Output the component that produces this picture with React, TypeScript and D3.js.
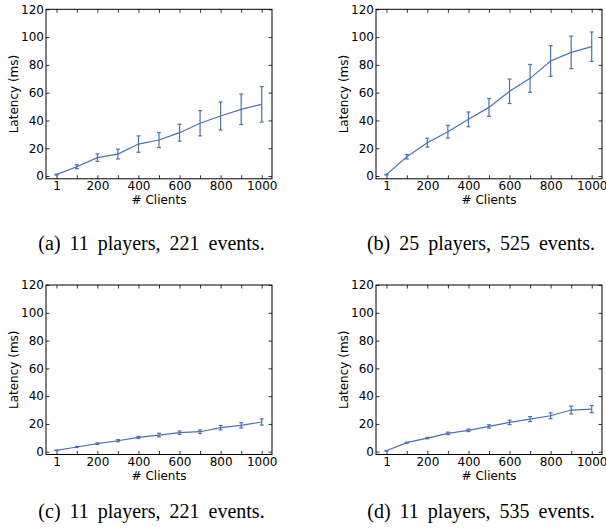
import React, { useEffect, useRef } from 'react';
import * as d3 from 'd3';

// number of clients on the x axis
const clients = [1, 100, 200, 300, 400, 500, 600, 700, 800, 900, 1000];
const xTicks = [1, 100, 200, 300, 400, 500, 600, 700, 800, 900, 1000];
const xLabels = [1, 200, 400, 600, 800, 1000];
const yTicks = [0, 20, 40, 60, 80, 100, 120];

// mean latency (ms) and error (ms) per panel
const latencyA = [1.0, 6.7, 13.2, 15.8, 23.0, 25.9, 31.2, 38.0, 43.2, 48.0, 51.6];
const errorA = [0.3, 1.4, 2.7, 3.5, 5.9, 5.4, 6.1, 9.1, 10.1, 11.0, 12.8];
const latencyB = [1.0, 13.9, 24.0, 31.9, 40.8, 49.4, 61.0, 70.3, 82.8, 89.0, 93.1];
const errorB = [0.3, 1.6, 3.2, 4.6, 5.3, 6.4, 8.8, 10.0, 11.0, 11.7, 10.6];
const latencyC = [1.0, 3.4, 5.8, 7.9, 10.3, 12.0, 13.7, 14.4, 17.3, 19.0, 21.4];
const errorC = [0.2, 0.4, 0.5, 0.8, 0.8, 1.3, 1.2, 1.3, 1.6, 1.9, 2.2];
const latencyD = [0.7, 6.5, 9.8, 13.2, 15.4, 18.2, 21.1, 23.5, 25.9, 30.0, 30.7];
const errorD = [0.2, 0.4, 0.5, 0.9, 0.9, 1.2, 1.6, 1.8, 2.1, 2.8, 2.6];

const captions = [
    '(a) 11 players, 221 events.',
    '(b) 25 players, 525 events.',
    '(c) 11 players, 221 events.',
    '(d) 11 players, 535 events.',
];

const color = '#4c72b0';
const width = 226;
const height = 169.5;

interface PanelProps {
    left: number;
    top: number;
    means: number[];
    errors: number[];
    caption: string;
    captionX: number;
    captionY: number;
}

const Panel: React.FC<PanelProps> = ({ left, top, means, errors, caption, captionX, captionY }) => {
    const ref = useRef<SVGGElement | null>(null);

    useEffect(() => {
        if (!ref.current) return;
        const root = d3.select(ref.current);
        root.selectAll('*').remove();

        const x = d3.scaleLinear().domain([-50, 1050]).range([0, width]);
        const y = d3.scaleLinear().domain([-2, 120]).range([height, 0]);

        const g = root.append('g').attr('transform', `translate(${left},${top})`);
        const font = 'DejaVu Sans';

        // x axes (labels bottom only)
        const bottom = g.append('g')
            .attr('transform', `translate(0,${height})`)
            .call(d3.axisBottom(x).tickValues(xTicks).tickSizeInner(-3.5).tickSizeOuter(0).tickPadding(3)
                .tickFormat(d => (xLabels.includes(d as number) ? String(d) : '')));
        g.append('g')
            .call(d3.axisTop(x).tickValues(xTicks).tickSizeInner(-3.5).tickSizeOuter(0).tickFormat(() => ''));

        // y axes (labels left only)
        const leftAxis = g.append('g')
            .call(d3.axisLeft(y).tickValues(yTicks).tickSizeInner(-3.5).tickSizeOuter(0).tickPadding(2));
        g.append('g')
            .attr('transform', `translate(${width},0)`)
            .call(d3.axisRight(y).tickValues(yTicks).tickSizeInner(-3.5).tickSizeOuter(0).tickFormat(() => ''));

        g.selectAll('.domain').remove();
        g.selectAll('.tick line').attr('stroke', '#000').attr('stroke-width', 0.8);
        [bottom, leftAxis].forEach(a => a.selectAll('text')
            .attr('font-family', font).attr('font-size', 12).attr('fill', '#000'));

        // frame
        g.append('rect')
            .attr('width', width).attr('height', height)
            .attr('fill', 'none').attr('stroke', '#000').attr('stroke-width', 1);

        // axis titles
        g.append('text')
            .attr('x', width / 2).attr('y', height + 25)
            .attr('text-anchor', 'middle')
            .attr('font-family', font).attr('font-size', 12)
            .text('# Clients');
        g.append('text')
            .attr('transform', 'rotate(-90)')
            .attr('x', -height / 2).attr('y', -28)
            .attr('text-anchor', 'middle')
            .attr('font-family', font).attr('font-size', 12)
            .text('Latency (ms)');

        const data = clients.map((c, i) => ({ c, m: means[i], e: errors[i] }));

        // error bars
        const bars = g.append('g').attr('stroke', color).attr('stroke-width', 1.2);
        data.forEach(d => {
            const cx = x(d.c);
            bars.append('line').attr('x1', cx).attr('x2', cx).attr('y1', y(d.m - d.e)).attr('y2', y(d.m + d.e));
            bars.append('line').attr('x1', cx - 2).attr('x2', cx + 2).attr('y1', y(d.m - d.e)).attr('y2', y(d.m - d.e));
            bars.append('line').attr('x1', cx - 2).attr('x2', cx + 2).attr('y1', y(d.m + d.e)).attr('y2', y(d.m + d.e));
        });

        // mean line
        const line = d3.line<{ c: number; m: number }>().x(d => x(d.c)).y(d => y(d.m));
        g.append('path')
            .datum(data)
            .attr('d', line)
            .attr('fill', 'none')
            .attr('stroke', color)
            .attr('stroke-width', 1.2);

        // caption
        root.append('text')
            .attr('x', captionX).attr('y', captionY)
            .attr('text-anchor', 'middle')
            .attr('font-family', 'Liberation Serif')
            .attr('font-size', 20)
            .attr('word-spacing', 4)
            .text(caption);
    }, [left, top, means, errors, caption, captionX, captionY]);

    return <g ref={ref} />;
};

const App: React.FC = () => (
    <svg width={606} height={529} style={{ position: 'absolute', left: 0, top: 0, background: '#fff' }}>
        <Panel left={46} top={9.3} means={latencyA} errors={errorA} caption={captions[0]} captionX={151.5} captionY={250} />
        <Panel left={376} top={9.3} means={latencyB} errors={errorB} caption={captions[1]} captionX={481} captionY={250} />
        <Panel left={46} top={285} means={latencyC} errors={errorC} caption={captions[2]} captionX={151.5} captionY={518} />
        <Panel left={376} top={285} means={latencyD} errors={errorD} caption={captions[3]} captionX={481} captionY={518} />
    </svg>
);

export default App;
